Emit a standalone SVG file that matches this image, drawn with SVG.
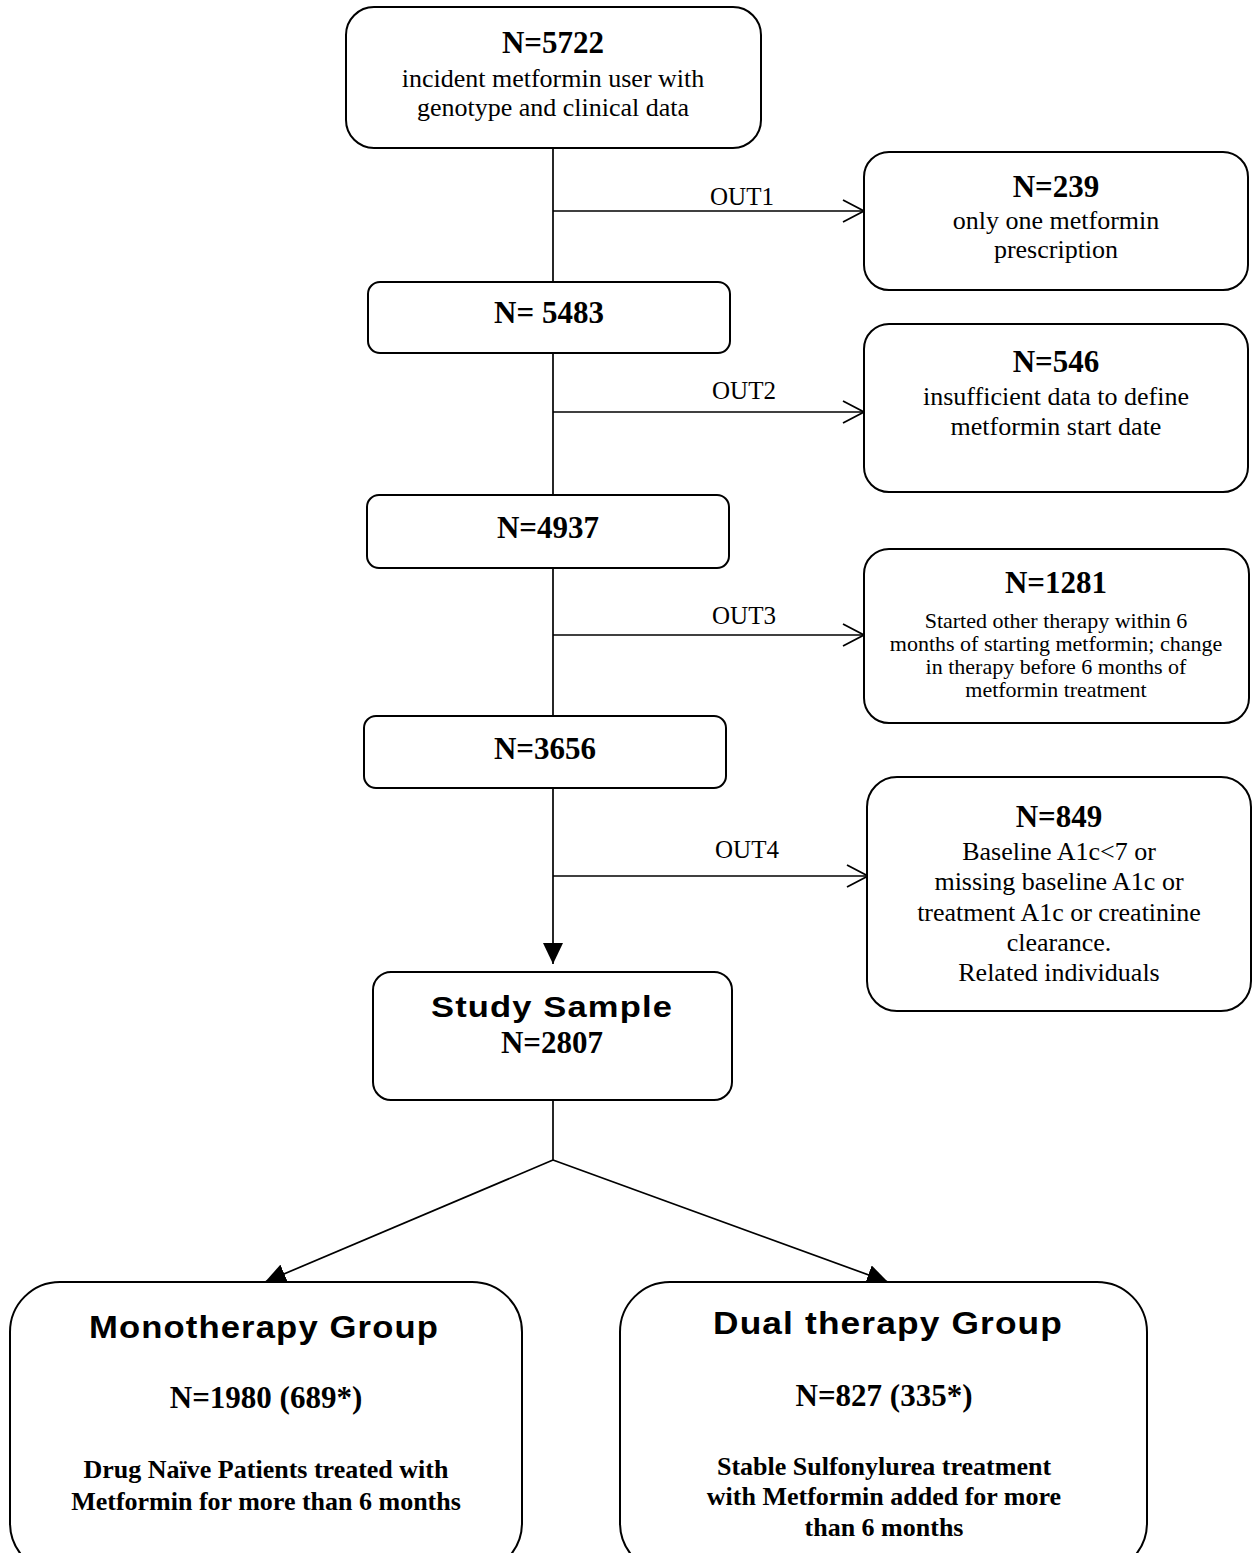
<svg xmlns="http://www.w3.org/2000/svg" width="1257" height="1553" viewBox="0 0 1257 1553">
<style>
.box{fill:#fff;stroke:#000;stroke-width:2}
.ln{fill:none;stroke:#000;stroke-width:1.7}
.t{font-family:"Liberation Serif","Times New Roman",serif;fill:#000;text-anchor:middle}
.n{font-weight:bold;font-size:31px}
.b{font-size:26px}
.s{font-size:22px}
.lab{font-size:25px}
.h{font-family:"Liberation Sans",Arial,sans-serif;font-weight:bold;fill:#000;text-anchor:middle}
.bb{font-weight:bold;font-size:26px}
</style>
<defs>
<marker id="tri" markerWidth="22" markerHeight="20" refX="21" refY="10" orient="auto" markerUnits="userSpaceOnUse"><path d="M0,0 L21,10 L0,20 Z" fill="#000"/></marker>
<marker id="chev" markerWidth="24" markerHeight="26" refX="22" refY="12" orient="auto" markerUnits="userSpaceOnUse"><path d="M1,1 L22,12 L1,23" fill="none" stroke="#000" stroke-width="1.8"/></marker>
</defs>
<g id="connectors">
<line class="ln" x1="553" y1="148" x2="553" y2="282"/>
<line class="ln" x1="553" y1="353" x2="553" y2="495"/>
<line class="ln" x1="553" y1="568" x2="553" y2="716"/>
<line class="ln" x1="553" y1="788" x2="553" y2="964" marker-end="url(#tri)"/>
<line class="ln" x1="553" y1="211" x2="864" y2="211" marker-end="url(#chev)"/>
<line class="ln" x1="553" y1="412" x2="864" y2="412" marker-end="url(#chev)"/>
<line class="ln" x1="553" y1="635" x2="864" y2="635" marker-end="url(#chev)"/>
<line class="ln" x1="553" y1="876" x2="868" y2="876" marker-end="url(#chev)"/>
<text class="t lab" x="742" y="205">OUT1</text>
<text class="t lab" x="744" y="399">OUT2</text>
<text class="t lab" x="744" y="624">OUT3</text>
<text class="t lab" x="747" y="858">OUT4</text>
<line class="ln" x1="553" y1="1100" x2="553" y2="1160"/>
<line class="ln" x1="553" y1="1160" x2="265" y2="1282" marker-end="url(#tri)"/>
<line class="ln" x1="553" y1="1160" x2="888" y2="1282" marker-end="url(#tri)"/>
</g>
<g id="n5722">
<rect class="box" x="346" y="7" width="415" height="141" rx="28"/>
<text class="t n" x="553" y="53">N=5722</text>
<text class="t b" x="553" y="87">incident metformin user with</text>
<text class="t b" x="553" y="116">genotype and clinical data</text>
</g>
<g id="n239">
<rect class="box" x="864" y="152" width="384" height="138" rx="25"/>
<text class="t n" x="1056" y="197">N=239</text>
<text class="t b" x="1056" y="229">only one metformin</text>
<text class="t b" x="1056" y="258">prescription</text>
</g>
<g id="n5483">
<rect class="box" x="368" y="282" width="362" height="71" rx="12"/>
<text class="t n" x="549" y="323">N= 5483</text>
</g>
<g id="n546">
<rect class="box" x="864" y="324" width="384" height="168" rx="25"/>
<text class="t n" x="1056" y="372">N=546</text>
<text class="t b" x="1056" y="405">insufficient data to define</text>
<text class="t b" x="1056" y="435">metformin start date</text>
</g>
<g id="n4937">
<rect class="box" x="367" y="495" width="362" height="73" rx="12"/>
<text class="t n" x="548" y="538">N=4937</text>
</g>
<g id="n1281">
<rect class="box" x="864" y="549" width="385" height="174" rx="25"/>
<text class="t n" x="1056" y="593">N=1281</text>
<text class="t s" x="1056" y="628">Started other therapy within 6</text>
<text class="t s" x="1056" y="651">months of starting metformin; change</text>
<text class="t s" x="1056" y="674">in therapy before 6 months of</text>
<text class="t s" x="1056" y="697">metformin treatment</text>
</g>
<g id="n3656">
<rect class="box" x="364" y="716" width="362" height="72" rx="12"/>
<text class="t n" x="545" y="759">N=3656</text>
</g>
<g id="n849">
<rect class="box" x="867" y="777" width="384" height="234" rx="30"/>
<text class="t n" x="1059" y="827">N=849</text>
<text class="t b" x="1059" y="860">Baseline A1c&lt;7 or</text>
<text class="t b" x="1059" y="890">missing baseline A1c or</text>
<text class="t b" x="1059" y="921">treatment A1c or creatinine</text>
<text class="t b" x="1059" y="951">clearance.</text>
<text class="t b" x="1059" y="981">Related individuals</text>
</g>
<g id="study">
<rect class="box" x="373" y="972" width="359" height="128" rx="18"/>
<text class="h" x="552" y="1017" font-size="30" letter-spacing="1" textLength="242" lengthAdjust="spacingAndGlyphs">Study Sample</text>
<text class="t n" x="552" y="1053">N=2807</text>
</g>
<g id="mono">
<rect class="box" x="10" y="1282" width="512" height="291" rx="50"/>
<text class="h" x="264" y="1338" font-size="31" letter-spacing="1" textLength="350" lengthAdjust="spacingAndGlyphs">Monotherapy Group</text>
<text class="t n" x="266" y="1408">N=1980 (689*)</text>
<text class="t bb" x="266" y="1478">Drug Naïve Patients treated with</text>
<text class="t bb" x="266" y="1510">Metformin for more than 6 months</text>
</g>
<g id="dual">
<rect class="box" x="620" y="1282" width="527" height="291" rx="50"/>
<text class="h" x="888" y="1334" font-size="31" letter-spacing="1" textLength="350" lengthAdjust="spacingAndGlyphs">Dual therapy Group</text>
<text class="t n" x="884" y="1406">N=827 (335*)</text>
<text class="t bb" x="884" y="1475">Stable Sulfonylurea treatment</text>
<text class="t bb" x="884" y="1505">with Metformin added for more</text>
<text class="t bb" x="884" y="1536">than 6 months</text>
</g>
</svg>
